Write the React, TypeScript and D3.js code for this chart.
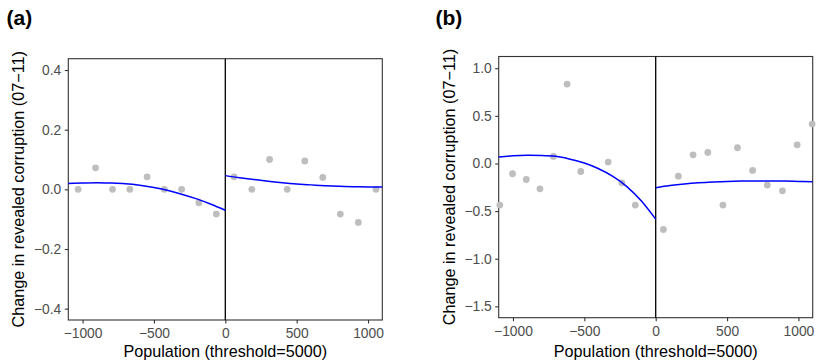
import { useEffect, useRef } from 'react';
import * as d3 from 'd3';

// Panel (a): binned means
const aLeftX = [-1031, -909, -790, -669, -548, -427, -306, -185, -63];
const aLeftY = [0, 0.072, 0, 0, 0.042, 0, 0, -0.045, -0.083];
const aRightX = [61, 186, 310, 434, 557, 683, 806, 932, 1056];
const aRightY = [0.042, 0, 0.1, 0, 0.095, 0.04, -0.083, -0.111, 0];

// Panel (a): fitted curves
const aFitLeftX = [-1100, -1000, -900, -800, -700, -600, -500, -400, -300, -200, -100, 0];
const aFitLeftY = [0.02, 0.021, 0.022, 0.021, 0.019, 0.014, 0.006, -0.004, -0.017, -0.032, -0.05, -0.07];
const aFitRightX = [0, 100, 200, 300, 400, 500, 600, 700, 800, 900, 1000, 1100];
const aFitRightY = [0.046, 0.039, 0.033, 0.027, 0.022, 0.018, 0.015, 0.012, 0.01, 0.009, 0.008, 0.008];

// Panel (b): binned means
const bLeftX = [-1092, -1003, -907, -811, -717, -621, -525, -333, -237, -143];
const bLeftY = [-0.437, -0.108, -0.168, -0.266, 0.074, 0.834, -0.084, 0.015, -0.203, -0.437];
const bRightX = [54, 159, 262, 365, 471, 573, 679, 782, 888, 991, 1096];
const bRightY = [-0.693, -0.133, 0.091, 0.116, -0.437, 0.165, -0.073, -0.227, -0.287, 0.196, 0.414];

// Panel (b): fitted curves
const bFitLeftX = [-1100, -1000, -900, -800, -700, -600, -500, -400, -300, -200, -100, 0];
const bFitLeftY = [0.067, 0.08, 0.086, 0.084, 0.075, 0.045, 0.005, -0.055, -0.135, -0.245, -0.395, -0.585];
const bFitRightX = [0, 100, 200, 300, 400, 500, 600, 700, 800, 900, 1000, 1100];
const bFitRightY = [-0.255, -0.232, -0.215, -0.203, -0.195, -0.189, -0.185, -0.183, -0.183, -0.185, -0.188, -0.192];

const xTicks = [-1000, -500, 0, 500, 1000];
const aYTicks = [-0.4, -0.2, 0, 0.2, 0.4];
const bYTicks = [-1.5, -1.0, -0.5, 0, 0.5, 1.0];

const W = 817;
const H = 362;
const FONT = '"Liberation Sans", Arial, sans-serif';

interface PanelSpec {
  tag: string;
  box: { left: number; right: number; top: number; bottom: number };
  yDomain: [number, number];
  yTicks: number[];
  leftX: number[];
  leftY: number[];
  rightX: number[];
  rightY: number[];
  fitLeftX: number[];
  fitLeftY: number[];
  fitRightX: number[];
  fitRightY: number[];
  tagX: number;
}

const panels: PanelSpec[] = [
  {
    tag: '(a)',
    box: { left: 68.3, right: 382.3, top: 58.7, bottom: 320 },
    yDomain: [-0.438, 0.438],
    yTicks: aYTicks,
    leftX: aLeftX, leftY: aLeftY, rightX: aRightX, rightY: aRightY,
    fitLeftX: aFitLeftX, fitLeftY: aFitLeftY, fitRightX: aFitRightX, fitRightY: aFitRightY,
    tagX: 6.5,
  },
  {
    tag: '(b)',
    box: { left: 498.7, right: 812.7, top: 56.5, bottom: 317.7 },
    yDomain: [-1.619, 1.123],
    yTicks: bYTicks,
    leftX: bLeftX, leftY: bLeftY, rightX: bRightX, rightY: bRightY,
    fitLeftX: bFitLeftX, fitLeftY: bFitLeftY, fitRightX: bFitRightX, fitRightY: bFitRightY,
    tagX: 435.5,
  },
];

export default function App() {
  const svgRef = useRef<SVGSVGElement>(null);

  useEffect(() => {
    if (!svgRef.current) return;
    const svg = d3.select(svgRef.current);
    svg.selectAll('*').remove();

    panels.forEach((p) => {
      const { left, right, top, bottom } = p.box;
      const x = d3.scaleLinear().domain([-1100, 1100]).range([left, right]);
      const y = d3.scaleLinear().domain(p.yDomain).range([bottom, top]);
      const g = svg.append('g');

      // Tag
      g.append('text')
        .attr('x', p.tagX)
        .attr('y', 24.5)
        .text(p.tag)
        .attr('font-family', FONT)
        .attr('font-weight', 'bold')
        .style('font-size', '21px')
        .attr('fill', '#000');

      // Panel background + border
      g.append('rect')
        .attr('x', left)
        .attr('y', top)
        .attr('width', right - left)
        .attr('height', bottom - top)
        .attr('fill', '#fff')
        .attr('stroke', '#333')
        .attr('stroke-width', 1.1);

      // Axes
      const fmtY = d3.format('.1f');
      const yAxis = g
        .append('g')
        .attr('transform', `translate(${left},0)`)
        .call(d3.axisLeft(y).tickValues(p.yTicks).tickSize(3.5).tickPadding(3.5).tickFormat((d) => fmtY(d as number)));
      const xAxis = g
        .append('g')
        .attr('transform', `translate(0,${bottom})`)
        .call(d3.axisBottom(x).tickValues(xTicks).tickSize(3.5).tickPadding(5).tickFormat(d3.format('d')));
      [yAxis, xAxis].forEach((ax) => {
        ax.select('.domain').remove();
        ax.selectAll('.tick line').attr('stroke', '#333').attr('stroke-width', 1.1);
        ax.selectAll('.tick text')
          .attr('fill', '#4d4d4d')
          .attr('font-family', FONT)
          .style('font-size', '13.8px');
      });

      // Threshold line
      g.append('line')
        .attr('x1', x(0))
        .attr('x2', x(0))
        .attr('y1', top)
        .attr('y2', bottom)
        .attr('stroke', '#000')
        .attr('stroke-width', 1.3);

      // Points
      const pts = [
        ...p.leftX.map((v, i) => [v, p.leftY[i]]),
        ...p.rightX.map((v, i) => [v, p.rightY[i]]),
      ];
      g.selectAll('.pt')
        .data(pts)
        .enter()
        .append('circle')
        .attr('cx', (d) => x(d[0]))
        .attr('cy', (d) => y(d[1]))
        .attr('r', 3.4)
        .attr('fill', '#bebebe');

      // Fits
      const line = d3
        .line<number[]>()
        .x((d) => x(d[0]))
        .y((d) => y(d[1]))
        .curve(d3.curveNatural);
      [
        p.fitLeftX.map((v, i) => [v, p.fitLeftY[i]]),
        p.fitRightX.map((v, i) => [v, p.fitRightY[i]]),
      ].forEach((fit) => {
        g.append('path')
          .attr('d', line(fit))
          .attr('fill', 'none')
          .attr('stroke', '#0000ff')
          .attr('stroke-width', 1.5);
      });

      // Axis titles
      g.append('text')
        .attr('x', (left + right) / 2)
        .attr('y', 356.5)
        .attr('text-anchor', 'middle')
        .text('Population (threshold=5000)')
        .attr('font-family', FONT)
        .style('font-size', '16.2px')
        .attr('fill', '#000');

      g.append('text')
        .attr('transform', `translate(${left - 44.1},${(top + bottom) / 2}) rotate(-90)`)
        .attr('text-anchor', 'middle')
        .text('Change in revealed corruption (07\u221211)')
        .attr('font-family', FONT)
        .style('font-size', '16.2px')
        .attr('fill', '#000');
    });
  }, []);

  return (
    <svg
      ref={svgRef}
      width={W}
      height={H}
      style={{ position: 'absolute', left: 0, top: 0, background: '#fff' }}
    />
  );
}
